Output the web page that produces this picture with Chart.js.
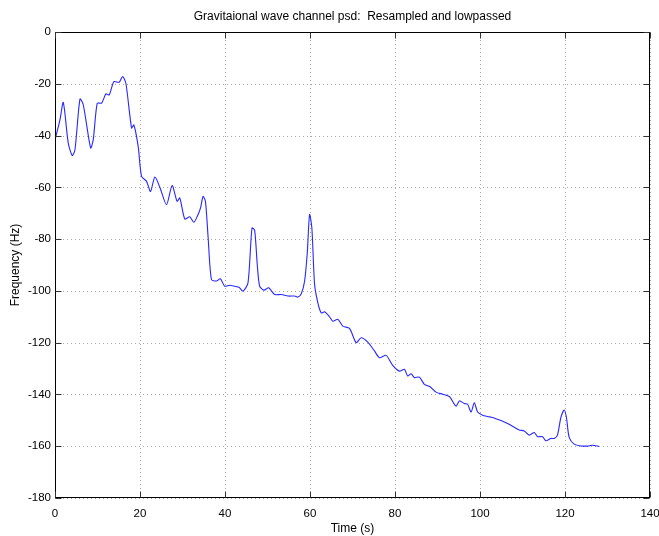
<!DOCTYPE html>
<html>
<head>
<meta charset="utf-8">
<script src="https://cdn.jsdelivr.net/npm/chart.js@4"></script>
<style>
html,body{margin:0;padding:0;background:#fff;}
#wrap{width:659px;height:536px;position:relative;}
</style>
</head>
<body>
<div id="wrap"><canvas id="c" width="659" height="536"></canvas></div>
<script>
const chartTitle = "Gravitaional wave channel psd:  Resampled and lowpassed";
const xAxisTitle = "Time (s)";
const yAxisTitle = "Frequency (Hz)";

const timeSeconds = [
  0, 1.17, 1.95, 3.12, 4.06, 4.70, 5.87, 6.65, 8.39, 9.00, 9.94, 10.97, 11.98, 12.76, 13.86,
  15.10, 15.90, 16.68, 18.02, 18.56, 19.57, 20.37, 21.54, 22.48, 23.49, 24.67, 26.24, 27.56,
  28.73, 29.36, 30.54, 31.71, 32.65, 33.43, 34.23, 34.84, 35.40, 36.01, 36.81, 37.98, 38.92,
  39.93, 41.11, 42.28, 43.29, 44.23, 45.41, 46.35, 46.98, 47.62, 48.16, 49.17, 50.27, 51.68,
  53.25, 54.80, 56.38, 57.15, 57.95, 58.73, 59.36, 59.90, 60.44, 61.08, 61.85, 62.65, 63.43,
  64.60, 65.37, 66.55, 67.72, 69.30, 70.87, 72.05, 73.60, 75.17, 76.35, 77.92, 79.47, 81.04,
  82.22, 82.99, 83.79, 84.57, 85.74, 86.92, 88.26, 89.66, 91.21, 92.79, 94.36, 95.14, 96.31,
  97.09, 97.89, 98.66, 99.44, 100.61, 101.78, 102.96, 104.13, 105.71, 107.28, 109.23, 110.41,
  111.58, 112.76, 113.53, 114.71, 115.51, 116.68, 117.46, 118.23, 119.03, 119.80, 120.34,
  120.98, 122.15, 123.73, 125.68, 126.45, 128.03
];
const psdValues = [
  -41.6, -33.9, -27.2, -42.9, -47.7, -45.5, -25.9, -28.1, -44.8, -41.6, -27.5, -27.5, -23.9, -24.3, -19.2,
  -19.4, -17.2, -19.8, -37.1, -35.9, -44.2, -55.8, -57.7, -61.6, -56.0, -60.0, -66.7, -59.3,
  -65.4, -64.1, -72.2, -71.4, -73.5, -71.4, -68.0, -63.5, -65.4, -78.9, -95.6, -96.2, -95.3,
  -98.2, -97.8, -98.2, -98.6, -100.1, -96.9, -75.7, -76.6, -90.5, -98.2, -99.7, -98.8, -101.4,
  -101.4, -102.0, -102.0, -102.4, -101.1, -96.2, -85.3, -70.5, -75.7, -97.5, -104.6, -108.5, -108.1,
  -110.0, -111.7, -111.0, -113.6, -114.5, -120.0, -118.1, -119.8, -123.2, -125.8, -124.9, -128.8, -131.0,
  -130.3, -132.9, -132.0, -133.5, -133.3, -136.1, -137.0, -139.1, -139.9, -140.8, -144.5, -142.5, -143.5,
  -143.8, -146.8, -143.2, -146.8, -148.0, -148.5, -148.9, -149.6, -150.6, -151.9, -153.7, -154.1,
  -155.7, -154.7, -156.3, -156.3, -157.9, -157.0, -157.0, -155.7, -148.9, -146.0, -148.9,
  -156.6, -159.2, -159.9, -159.9, -159.6, -160.1
];

const xMin = 0, xMax = 140, xStep = 20;
const yMin = -180, yMax = 0, yStep = 20;

const points = timeSeconds.map((t, i) => ({x: t, y: psdValues[i]}));

const FONT = "'Liberation Sans', Arial, Helvetica, sans-serif";

const framePlugin = {
  id: 'frame',
  beforeDatasetsDraw(chart) {
    const {ctx, chartArea: a, scales: {x, y}} = chart;
    ctx.save();
    ctx.strokeStyle = '#a8a8a8';
    ctx.lineWidth = 1;
    ctx.setLineDash([1, 3]);
    x.ticks.forEach(tk => {
      const px = Math.round(x.getPixelForValue(tk.value)) + 0.5;
      ctx.beginPath(); ctx.moveTo(px, a.top); ctx.lineTo(px, a.bottom); ctx.stroke();
    });
    y.ticks.forEach(tk => {
      const py = Math.round(y.getPixelForValue(tk.value)) + 0.5;
      ctx.beginPath(); ctx.moveTo(a.left, py); ctx.lineTo(a.right, py); ctx.stroke();
    });
    ctx.setLineDash([]);
    ctx.restore();
  },
  afterDatasetsDraw(chart) {
    const {ctx, chartArea: a, scales: {x, y}} = chart;
    ctx.save();
    ctx.strokeStyle = '#000';
    ctx.lineWidth = 1;
    const L = Math.round(a.left) + 0.5, R = Math.round(a.right) - 0.5;
    const T = Math.round(a.top) + 0.5, B = Math.round(a.bottom) - 0.5;
    ctx.strokeRect(L, T, R - L, B - T);
    const tl = 6;
    ctx.strokeStyle = '#333';
    x.ticks.forEach(tk => {
      const px = Math.round(x.getPixelForValue(tk.value)) + 0.5;
      ctx.beginPath(); ctx.moveTo(px, B); ctx.lineTo(px, B - tl); ctx.stroke();
      ctx.beginPath(); ctx.moveTo(px, T); ctx.lineTo(px, T + tl); ctx.stroke();
    });
    y.ticks.forEach(tk => {
      const py = Math.round(y.getPixelForValue(tk.value)) + 0.5;
      ctx.beginPath(); ctx.moveTo(L, py); ctx.lineTo(L + tl, py); ctx.stroke();
      ctx.beginPath(); ctx.moveTo(R, py); ctx.lineTo(R - tl, py); ctx.stroke();
    });
    ctx.fillStyle = '#000';
    ctx.font = '12px ' + FONT;
    ctx.textAlign = 'center';
    ctx.textBaseline = 'middle';
    ctx.fillText(chartTitle, (a.left + a.right) / 2, 17);
    ctx.restore();
  }
};

new Chart(document.getElementById('c'), {
  type: 'line',
  data: {
    datasets: [{
      data: points,
      borderColor: 'rgb(40,40,255)',
      borderWidth: 1.1,
      pointRadius: 0,
      tension: 0.25,
      fill: false
    }]
  },
  options: {
    responsive: false,
    animation: false,
    devicePixelRatio: 1,
    layout: {padding: {top: 32, left: 8, right: 9, bottom: 0}},
    plugins: {legend: {display: false}, tooltip: {enabled: false}, title: {display: false}},
    scales: {
      x: {
        type: 'linear', min: xMin, max: xMax,
        ticks: {stepSize: xStep, color: '#000', font: {family: FONT, size: 11.5}, padding: 9, maxRotation: 0},
        grid: {display: false, drawTicks: false},
        border: {display: false},
        title: {display: true, text: xAxisTitle, color: '#000', font: {family: FONT, size: 12}, padding: {top: 2, bottom: 0}},
        afterFit(s) { s.height = 38; s.paddingLeft = 0; s.paddingRight = 0; }
      },
      y: {
        type: 'linear', min: yMin, max: yMax,
        ticks: {stepSize: yStep, color: '#000', font: {family: FONT, size: 11.5}, padding: 4},
        grid: {display: false, drawTicks: false},
        border: {display: false},
        title: {display: true, text: yAxisTitle, color: '#000', font: {family: FONT, size: 12}, padding: {top: 0, bottom: 0}},
        afterFit(s) { s.width = 47; s.paddingTop = 0; s.paddingBottom = 0; }
      }
    }
  },
  plugins: [framePlugin]
});
</script>
</body>
</html>
